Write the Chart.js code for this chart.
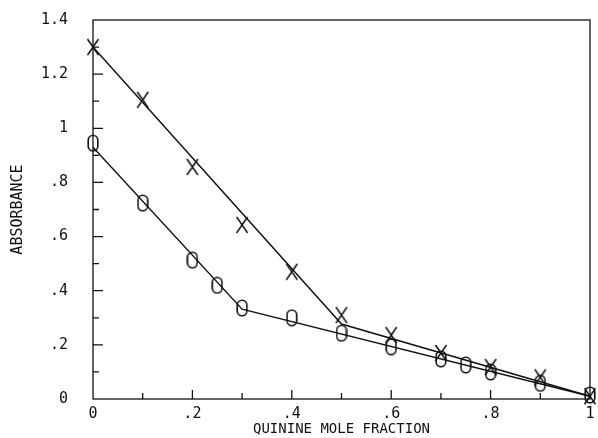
<!DOCTYPE html>
<html>
<head>
<meta charset="utf-8">
<script src="https://cdn.jsdelivr.net/npm/chart.js@4/dist/chart.umd.min.js"></script>
<style>
  html, body { margin: 0; padding: 0; background: #fff; }
  #wrap { width: 598px; height: 438px; }
</style>
</head>
<body>
<div id="wrap"><canvas id="myChart" width="598" height="438"></canvas></div>
<script>
// puntos medidos (X)
const crossFrac = [0, 0.1, 0.2, 0.3, 0.4, 0.5, 0.6, 0.7, 0.8, 0.9, 1.0];
const crossAbs  = [1.30, 1.105, 0.857, 0.643, 0.47, 0.31, 0.236, 0.17, 0.118, 0.08, 0.01];

// puntos medidos (O)
const ovalFrac = [0, 0.1, 0.2, 0.25, 0.3, 0.4, 0.5, 0.6, 0.7, 0.75, 0.8, 0.9, 1.0];
const ovalAbs  = [0.945, 0.724, 0.513, 0.42, 0.336, 0.30, 0.243, 0.193, 0.148, 0.126, 0.10, 0.058, 0.015];

// rectas de ajuste
const crossLineFrac = [0, 0.5, 1.0];
const crossLineAbs  = [1.30, 0.277, 0.01];
const ovalLineFrac  = [0, 0.3, 1.0];
const ovalLineAbs   = [0.93, 0.332, 0.01];

const xTicks = [0, 0.2, 0.4, 0.6, 0.8, 1.0];
const yTicks = [0, 0.2, 0.4, 0.6, 0.8, 1.0, 1.2, 1.4];

const ink = '#111';
const toPts = (xs, ys) => xs.map((x, i) => ({ x: x, y: ys[i] }));

// marcador en forma de X
const makeCross = () => {
    const c = document.createElement('canvas');
    c.width = 14; c.height = 18;
    const g = c.getContext('2d');
    g.strokeStyle = ink; g.lineWidth = 1.5;
    g.beginPath();
    g.moveTo(1.5, 1); g.lineTo(12.5, 17);
    g.moveTo(12.5, 1); g.lineTo(1.5, 17);
    g.stroke();
    return c;
};

// marcador ovalado (O)
const makeOval = () => {
    const c = document.createElement('canvas');
    c.width = 12; c.height = 18;
    const g = c.getContext('2d');
    g.strokeStyle = ink; g.lineWidth = 1.6;
    g.beginPath();
    g.roundRect(1.2, 1.2, 9.6, 15.6, 4.8);
    g.stroke();
    return c;
};

const fmt = v => {
    const r = Math.round(v * 10) / 10;
    return String(r).replace(/^0\./, '.');
};

// ticks hacia adentro y marco
const frameTicks = {
    id: 'frameTicks',
    afterDatasetsDraw(chart) {
        const { ctx, chartArea: a, scales } = chart;
        ctx.save();
        ctx.strokeStyle = ink;
        ctx.lineWidth = 1.3;
        ctx.strokeRect(a.left, a.top, a.right - a.left, a.bottom - a.top);
        ctx.beginPath();
        for (let i = 1; i < 10; i++) {
            const v = i / 10;
            const px = scales.x.getPixelForValue(v);
            const len = i % 2 === 0 ? 9 : 6;
            ctx.moveTo(px, a.bottom); ctx.lineTo(px, a.bottom - len);
        }
        for (let i = 1; i < 14; i++) {
            const v = i / 10;
            const py = scales.y.getPixelForValue(v);
            const len = i % 2 === 0 ? 10 : 6;
            ctx.moveTo(a.left, py); ctx.lineTo(a.left + len, py);
        }
        ctx.stroke();
        ctx.restore();
    }
};

const ctx = document.getElementById('myChart').getContext('2d');
const myChart = new Chart(ctx, {
    type: 'scatter',
    data: {
        datasets: [
            {
                label: 'X fit',
                data: toPts(crossLineFrac, crossLineAbs),
                showLine: true,
                borderColor: ink,
                borderWidth: 1.4,
                pointRadius: 0
            },
            {
                label: 'O fit',
                data: toPts(ovalLineFrac, ovalLineAbs),
                showLine: true,
                borderColor: ink,
                borderWidth: 1.4,
                pointRadius: 0
            },
            {
                label: 'X',
                data: toPts(crossFrac, crossAbs),
                pointStyle: makeCross(),
                pointRadius: 7
            },
            {
                label: 'O',
                data: toPts(ovalFrac, ovalAbs),
                pointStyle: makeOval(),
                pointRadius: 7
            }
        ]
    },
    options: {
        responsive: false,
        animation: false,
        clip: false,
        layout: { padding: { left: 0, right: 2, top: 20, bottom: 0 } },
        plugins: { legend: { display: false }, tooltip: { enabled: false } },
        scales: {
            x: {
                type: 'linear',
                min: 0, max: 1,
                afterBuildTicks: s => { s.ticks = xTicks.map(v => ({ value: v })); },
                afterFit: s => { s.height = 39; s.paddingLeft = 0; s.paddingRight = 0; },
                grid: { display: false, drawTicks: false },
                border: { display: false },
                ticks: {
                    padding: 6,
                    color: ink,
                    font: { family: 'DejaVu Sans Mono', size: 15 },
                    callback: v => fmt(v)
                },
                title: {
                    display: true,
                    text: 'QUININE MOLE FRACTION',
                    color: ink,
                    padding: { top: 0, bottom: 0 },
                    font: { family: 'DejaVu Sans Mono', size: 14 }
                }
            },
            y: {
                type: 'linear',
                min: 0, max: 1.4,
                afterBuildTicks: s => { s.ticks = yTicks.map(v => ({ value: v })); },
                afterFit: s => { s.width = 93; s.paddingTop = 0; s.paddingBottom = 0; },
                grid: { display: false, drawTicks: false },
                border: { display: false },
                ticks: {
                    padding: 25,
                    color: ink,
                    font: { family: 'DejaVu Sans Mono', size: 15 },
                    callback: v => fmt(v)
                },
                title: {
                    display: true,
                    text: 'ABSORBANCE',
                    color: ink,
                    padding: { top: 9, bottom: 0 },
                    font: { family: 'DejaVu Sans Mono', size: 15 }
                }
            }
        }
    },
    plugins: [frameTicks]
});
</script>
</body>
</html>
